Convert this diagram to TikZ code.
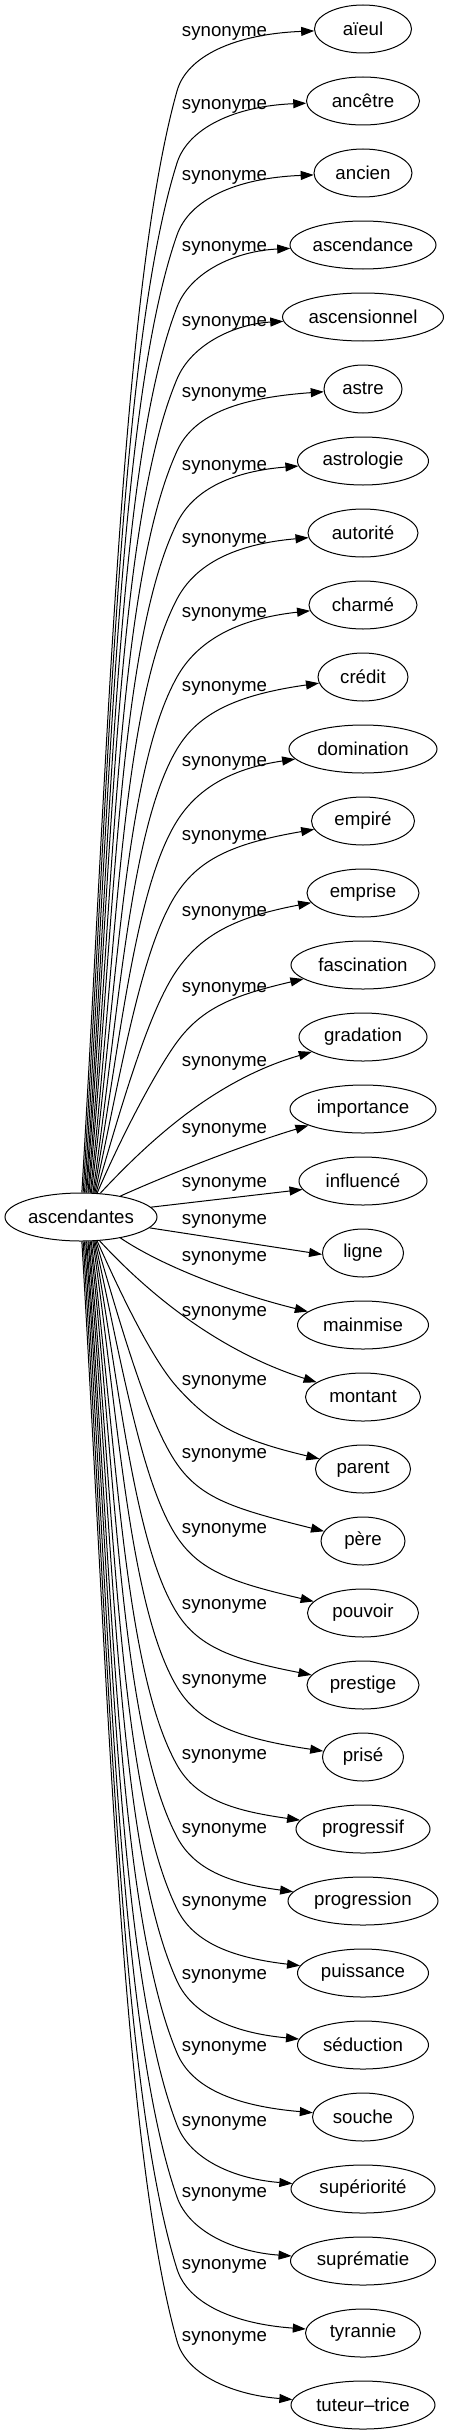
\documentclass[tikz,border=0pt]{standalone}
\usepackage{fontspec}
\setmainfont{Liberation Sans}
\usetikzlibrary{shapes.geometric,arrows.meta,calc}
% upper connector: #1 target, #2 target y, #3 exit angle, #4 bend offset, #5 slope, #6 end offset
\newcommand\edgeup[6]{%
  \pgfmathsetmacro\eyP{#2+#4}%
  \pgfmathsetmacro\eD{1193-\eyP}%
  \pgfmathsetmacro\eHa{0.4*\eD}%
  \pgfmathsetmacro\eHb{0.18*\eD}%
  \pgfmathsetmacro\eCbx{177-#5*\eHb}%
  \pgfmathsetmacro\eCby{\eyP+\eHb}%
  \pgfmathsetmacro\eCcx{177+#5*35}%
  \pgfmathsetmacro\eCcy{\eyP-35}%
  \pgfmathsetmacro\eCdy{#2+#6}%
  \draw[conn] (src.#3) .. controls ($(src.#3)+(26,-\eHa)$) and (\eCbx,\eCby) .. (177,\eyP) .. controls (\eCcx,\eCcy) and (235,\eCdy) .. (#1);
}
\newcommand\edgedn[6]{%
  \pgfmathsetmacro\eyP{#2-#4}%
  \pgfmathsetmacro\eD{\eyP-1241}%
  \pgfmathsetmacro\eHa{0.4*\eD}%
  \pgfmathsetmacro\eHb{0.18*\eD}%
  \pgfmathsetmacro\eCbx{177-#5*\eHb}%
  \pgfmathsetmacro\eCby{\eyP-\eHb}%
  \pgfmathsetmacro\eCcx{177+#5*35}%
  \pgfmathsetmacro\eCcy{\eyP+35}%
  \pgfmathsetmacro\eCdy{#2-#6}%
  \draw[conn] (src.#3) .. controls ($(src.#3)+(26,\eHa)$) and (\eCbx,\eCby) .. (177,\eyP) .. controls (\eCcx,\eCcy) and (235,\eCdy) .. (#1);
}
\begin{document}
\begin{tikzpicture}[x=1pt,y=-1pt,
  every node/.style={font=\fontsize{18.67}{22}\selectfont, text=black},
  word/.style={draw, ellipse, line width=1pt, minimum height=48pt, inner sep=0pt},
  lab/.style={inner sep=0pt},
  conn/.style={draw, line width=1pt, -{Triangle[length=13pt,width=9pt]}}]
\useasboundingbox[fill=white] (0,0) rectangle (449,2435);

\node[word, minimum width=152pt] (src) at (81,1217) {ascendantes};

\node[word, minimum width=97pt]  (t0)  at (363,29)   {aïeul};
\node[word, minimum width=113pt] (t1)  at (363,101)  {ancêtre};
\node[word, minimum width=98pt]  (t2)  at (363,173)  {ancien};
\node[word, minimum width=146pt] (t3)  at (363,245)  {ascendance};
\node[word, minimum width=161pt] (t4)  at (363,317)  {ascensionnel};
\node[word, minimum width=78pt]  (t5)  at (363,389)  {astre};
\node[word, minimum width=131pt] (t6)  at (363,461)  {astrologie};
\node[word, minimum width=110pt] (t7)  at (363,533)  {autorité};
\node[word, minimum width=108pt] (t8)  at (363,605)  {charmé};
\node[word, minimum width=90pt]  (t9)  at (363,677)  {crédit};
\node[word, minimum width=148pt] (t10) at (363,749)  {domination};
\node[word, minimum width=103pt] (t11) at (363,821)  {empiré};
\node[word, minimum width=112pt] (t12) at (363,893)  {emprise};
\node[word, minimum width=144pt] (t13) at (363,965)  {fascination};
\node[word, minimum width=128pt] (t14) at (363,1037) {gradation};
\node[word, minimum width=146pt] (t15) at (363,1109) {importance};
\node[word, minimum width=128pt] (t16) at (363,1181) {influencé};
\node[word, minimum width=81pt]  (t17) at (363,1253) {ligne};
\node[word, minimum width=131pt] (t18) at (363,1325) {mainmise};
\node[word, minimum width=115pt] (t19) at (363,1397) {montant};
\node[word, minimum width=95pt]  (t20) at (363,1469) {parent};
\node[word, minimum width=84pt]  (t21) at (363,1541) {père};
\node[word, minimum width=111pt] (t22) at (363,1613) {pouvoir};
\node[word, minimum width=112pt] (t23) at (363,1685) {prestige};
\node[word, minimum width=81pt]  (t24) at (363,1757) {prisé};
\node[word, minimum width=134pt] (t25) at (363,1829) {progressif};
\node[word, minimum width=150pt] (t26) at (363,1901) {progression};
\node[word, minimum width=131pt] (t27) at (363,1973) {puissance};
\node[word, minimum width=131pt] (t28) at (363,2045) {séduction};
\node[word, minimum width=101pt] (t29) at (363,2117) {souche};
\node[word, minimum width=144pt] (t30) at (363,2189) {supériorité};
\node[word, minimum width=145pt] (t31) at (363,2261) {suprématie};
\node[word, minimum width=115pt] (t32) at (363,2333) {tyrannie};
\node[word, minimum width=144pt] (t33) at (363,2405) {tuteur–trice};

\foreach \k/\y in {0/33,1/106,2/177,3/248,4/323,5/394,6/467,7/540,8/614,9/688,10/763,11/837,12/913,13/989,14/1063,15/1130,16/1184,17/1221,18/1258,19/1313,20/1382,21/1455,22/1530,23/1606,24/1681,25/1756,26/1830,27/1903,28/1976,29/2048,30/2123,31/2194,32/2266,33/2338}
  \node[lab] (l\k) at (224.5,\y) {synonyme};

\edgeup{t0}{29}{88}{62}{0.28}{5}
\edgeup{t1}{101}{85}{62}{0.315}{5}
\edgeup{t2}{173}{82}{62}{0.35}{5}
\edgeup{t3}{245}{79}{62}{0.385}{6}
\edgeup{t4}{317}{77}{62}{0.42}{7}
\edgeup{t5}{389}{74}{62}{0.455}{9}
\edgeup{t6}{461}{72}{62}{0.49}{10}
\edgeup{t7}{533}{69}{66}{0.525}{11}
\edgeup{t8}{605}{67}{72}{0.56}{14}
\edgeup{t9}{677}{64}{72}{0.595}{18}
\edgeup{t10}{749}{62}{72}{0.63}{19}
\edgeup{t11}{821}{60}{72}{0.665}{22}
\edgeup{t12}{893}{58}{77}{0.70}{24}
\edgeup{t13}{965}{56}{77}{0.735}{30}
\draw[conn] (src.51) .. controls (150,1140) and (215,1080) .. (t14);
\draw[conn] (src.28) .. controls (165,1176) and (240,1146) .. (t15);
\draw[conn] (src.8) -- (t16.188);
\draw[conn] (src.-9) -- (t17.182);
\draw[conn] (src.-28) .. controls (165,1268) and (240,1295) .. (t18);
\draw[conn] (src.-52) .. controls (145,1290) and (215,1350) .. (t19);
\edgedn{t20}{1469}{-56}{82}{0.9}{30}
\edgedn{t21}{1541}{-58}{77}{0.70}{32}
\edgedn{t22}{1613}{-60}{76}{0.665}{30}
\edgedn{t23}{1685}{-62}{72}{0.63}{25}
\edgedn{t24}{1757}{-64}{70}{0.595}{19}
\edgedn{t25}{1829}{-67}{64}{0.56}{18}
\edgedn{t26}{1901}{-69}{64}{0.525}{17}
\edgedn{t27}{1973}{-72}{64}{0.49}{15}
\edgedn{t28}{2045}{-74}{64}{0.455}{12}
\edgedn{t29}{2117}{-77}{64}{0.42}{11}
\edgedn{t30}{2189}{-79}{64}{0.385}{10}
\edgedn{t31}{2261}{-82}{64}{0.35}{9}
\edgedn{t32}{2333}{-85}{64}{0.315}{9}
\edgedn{t33}{2405}{-88}{64}{0.28}{10}
\end{tikzpicture}
\end{document}
